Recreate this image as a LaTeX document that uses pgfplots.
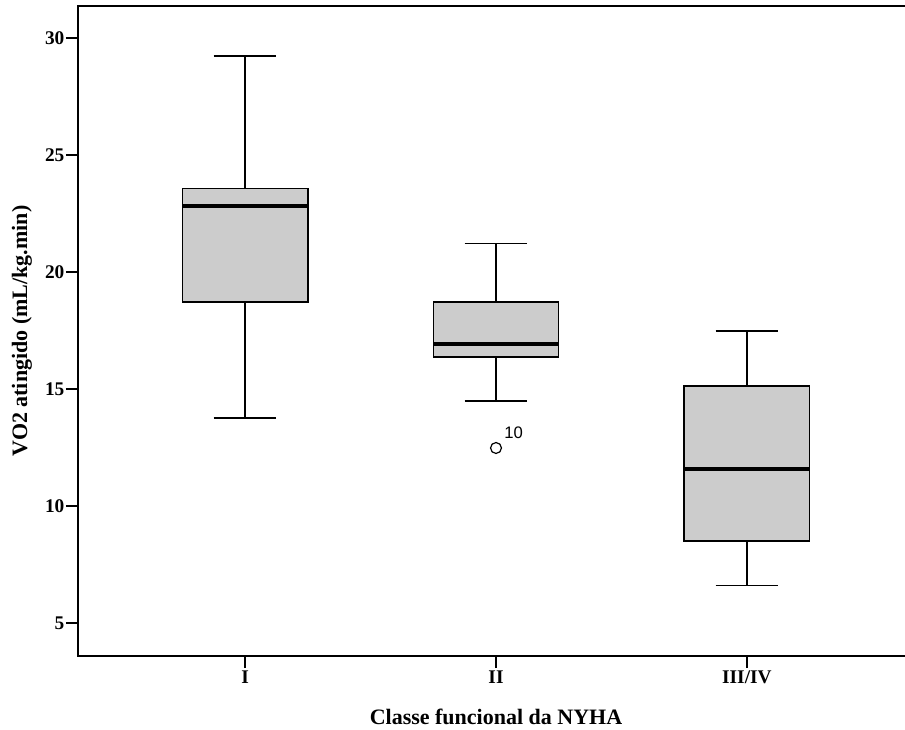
\documentclass[border=0pt]{standalone}
\usepackage{pgfplots}
\pgfplotsset{compat=1.18}
\usepgfplotslibrary{statistics}
\usepackage{fontspec}
\setmainfont{Liberation Serif}
\newfontfamily\sansf{Liberation Sans}
\definecolor{boxgray}{RGB}{204,204,204}
\begin{document}
\begin{tikzpicture}
\begin{axis}[
  at={(0pt,0pt)}, anchor=south west,
  scale only axis, width=627pt, height=487.5pt,
  xmin=0.334, xmax=3.666, ymin=3.6, ymax=31.38,
  boxplot/draw direction=y,
  axis line style={line width=1.5pt},
  xtick={1,2,3}, xticklabels={I,II,III/IV},
  ytick={5,10,15,20,25,30},
  tick pos=left,
  tick align=outside,
  major tick length=9pt,
  tick style={line width=1.2pt, black},
  ticklabel style={font=\fontsize{14.5}{16}\selectfont\bfseries},
  yticklabel style={inner sep=1pt},
  xticklabel style={inner sep=2pt},
  /pgf/number format/assume math mode=true,
  xlabel={Classe funcional da NYHA},
  ylabel={VO2 atingido (mL/kg.min)},
  label style={font=\fontsize{16.5}{18}\selectfont\bfseries},
  xlabel style={at={(axis description cs:0.5,-0.0938)}, anchor=center},
  ylabel style={at={(axis description cs:-0.067,0.5)}, anchor=center},
  clip=false,
]
\addplot[black, line width=1.1pt, fill=boxgray,
  boxplot prepared={draw position=1, lower whisker=13.77, lower quartile=18.73,
    median=22.85, upper quartile=23.59, upper whisker=29.24,
    box extend=0.5, whisker extend=0.25,
    every median/.style={line width=3pt}}] coordinates {};
\addplot[black, line width=1.1pt, fill=boxgray, mark=o, mark size=4.1pt,
  mark options={fill=none, solid, line width=0.9pt},
  boxplot prepared={draw position=2, lower whisker=14.49, lower quartile=16.38,
    median=16.94, upper quartile=18.73, upper whisker=21.24,
    box extend=0.5, whisker extend=0.25,
    every median/.style={line width=3pt}}] coordinates {(0,12.49)};
\addplot[black, line width=1.1pt, fill=boxgray,
  boxplot prepared={draw position=3, lower whisker=6.61, lower quartile=8.52,
    median=11.59, upper quartile=15.13, upper whisker=17.50,
    box extend=0.5, whisker extend=0.25,
    every median/.style={line width=3pt}}] coordinates {};
\node[font=\sansf\fontsize{12.5}{14}\selectfont] at (axis cs:2.07,13.13) {10};
\end{axis}
\pgfresetboundingbox
\path[use as bounding box] (-58.5pt,-54.75pt) rectangle (620.25pt,492pt);
\end{tikzpicture}
\end{document}
